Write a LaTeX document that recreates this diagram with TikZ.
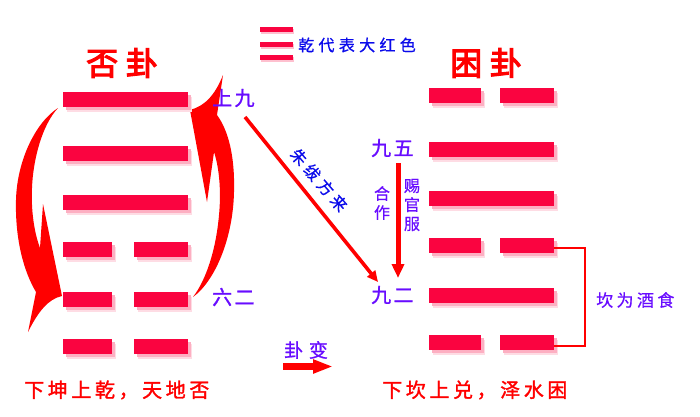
\documentclass[tikz,border=0pt]{standalone}
\usepackage{fontspec}
\newfontfamily\cjk{Noto Sans CJK SC}
\usetikzlibrary{arrows.meta,shadows}
\definecolor{barred}{RGB}{250,4,64}
\definecolor{lblpurple}{RGB}{104,12,255}
\definecolor{lblblue}{RGB}{10,10,235}
\definecolor{arrred}{RGB}{255,0,0}
\tikzset{
  bar/.style={fill=barred, draw=none, inner sep=0pt, minimum height=15pt,
    general shadow={fill=barred!14, shadow xshift=4pt, shadow yshift=-5pt},
    general shadow={fill=barred!32, shadow xshift=2.5pt, shadow yshift=-3pt}},
  full/.style={bar, minimum width=125pt},
  legbar/.style={fill=barred, draw=none, inner sep=0pt, minimum width=33pt, minimum height=5pt,
    general shadow={fill=barred!25, shadow xshift=1pt, shadow yshift=-1.5pt}},
  title/.style={inner sep=0pt, anchor=west, text=arrred,
    font=\cjk\addfontfeatures{LetterSpace=24,FakeBold=3.5}\fontsize{32pt}{32pt}\selectfont},
  yao/.style={inner sep=0pt, anchor=west, text=lblpurple,
    font=\cjk\addfontfeatures{LetterSpace=12,FakeBold=1.2}\fontsize{20pt}{20pt}\selectfont},
  note/.style={inner sep=0pt, anchor=west, text=lblpurple,
    font=\cjk\addfontfeatures{LetterSpace=20,FakeBold=0.6}\fontsize{17pt}{17pt}\selectfont},
  vnote/.style={inner sep=0pt, text=lblpurple, align=center,
    font=\cjk\addfontfeatures{FakeBold=0.6}\fontsize{16pt}{19pt}\selectfont},
  bottom/.style={inner sep=0pt, anchor=west, text=arrred,
    font=\cjk\addfontfeatures{LetterSpace=18,FakeBold=1.5}\fontsize{20pt}{20pt}\selectfont},
  bluetxt/.style={inner sep=0pt, text=lblblue,
    font=\cjk\addfontfeatures{LetterSpace=27,FakeBold=0.8}\fontsize{16pt}{16pt}\selectfont},
}
\begin{document}
\begin{tikzpicture}[x=1pt,y=-1pt]
\useasboundingbox (0,0) rectangle (700,416);
\fill[white] (0,0) rectangle (700,416);

% titles
\node[title] (tL) at (86,63) {否卦};
\node[title] (tR) at (450,63) {困卦};

% legend
\node[legbar] (g1) at (276.5,29.5) {};
\node[legbar] (g2) at (276.5,44.5) {};
\node[legbar] (g3) at (276.5,57.5) {};
\node[bluetxt, anchor=west] (gt) at (298,45) {乾代表大红色};

% curved arrows (left, right)
\fill[arrred] (58,108) .. controls (36,122) and (17,160) .. (16,200)
  .. controls (15,240) and (24,272) .. (36,292)
  -- (28,332)
  .. controls (38,312) and (48,299) .. (62,296)
  -- (43,204) -- (40,248)
  .. controls (34,232) and (31,210) .. (32,188)
  .. controls (33,160) and (42,125) .. (58,108) -- cycle;
\fill[arrred] (193,297) .. controls (214,282) and (233,240) .. (234,192)
  .. controls (235,155) and (228,130) .. (217,115)
  -- (223,75)
  .. controls (215,95) and (205,106) .. (190,110)
  -- (207,202) -- (214,152)
  .. controls (220,170) and (221,195) .. (219,215)
  .. controls (216,250) and (206,280) .. (193,297) -- cycle;

% left hexagram
\node[full] (L1) at (125.5,99.5) {};
\node[full] (L2) at (125.5,153.5) {};
\node[full] (L3) at (125.5,202.5) {};
\node[bar, minimum width=49pt] (L4a) at (87.5,249.5) {};
\node[bar, minimum width=54pt] (L4b) at (161,249.5) {};
\node[bar, minimum width=49pt] (L5a) at (87.5,299.5) {};
\node[bar, minimum width=54pt] (L5b) at (161,299.5) {};
\node[bar, minimum width=49pt] (L6a) at (87.5,346.5) {};
\node[bar, minimum width=54pt] (L6b) at (161,346.5) {};

% right hexagram
\node[bar, minimum width=52pt] (R1a) at (455,95.5) {};
\node[bar, minimum width=54pt] (R1b) at (527,95.5) {};
\node[full] (R2) at (491.5,149.5) {};
\node[full] (R3) at (491.5,198.5) {};
\node[bar, minimum width=52pt] (R4a) at (455,245.5) {};
\node[bar, minimum width=54pt] (R4b) at (527,245.5) {};
\node[full] (R5) at (491.5,295.5) {};
\node[bar, minimum width=52pt] (R6a) at (455,342.5) {};
\node[bar, minimum width=54pt] (R6b) at (527,342.5) {};

% yao labels
\node[yao] (s9) at (212,98) {上九};
\node[yao] (l2) at (212,297) {六二};
\node[yao] (n5) at (371,148) {九五};
\node[yao] (n2) at (371,295) {九二};

% diagonal arrow
\coordinate (dS) at (245,117);
\coordinate (dE) at (378,282);
\draw[arrred, line width=3.6pt, -{Triangle[length=11pt,width=10pt]}] (dS) -- (dE);
\node[bluetxt, rotate=-49] (zf) at (319,180) {朱绂方来};

% vertical arrow
\coordinate (vS) at (398,163);
\coordinate (vE) at (398,278);
\draw[arrred, line width=5pt, -{Triangle[length=14pt,width=12pt]}] (vS) -- (vE);
\node[vnote] (hz) at (382,203) {合\\作};
\node[vnote] (cg) at (412,205) {赐\\官\\服};

% bracket
\draw[arrred, line width=2pt] ([yshift=-2.5pt]R4b.east) -- ++(31,0) |- ([yshift=-3.5pt]R6b.east);
\node[note] (kw) at (596,300) {坎为酒食};

% gua bian arrow
\node[note, font=\cjk\addfontfeatures{LetterSpace=30,FakeBold=1}\fontsize{19pt}{19pt}\selectfont] (gb) at (284,350) {卦变};
\coordinate (bS) at (283,366.5);
\coordinate (bE) at (333,366.5);
\draw[arrred, line width=7pt, -{Triangle[length=20pt,width=13pt]}] (bS) -- (bE);

% bottom texts
\node[bottom] (bl) at (24,390) {下坤上乾，天地否};
\node[bottom] (br) at (382,390) {下坎上兑，泽水困};
\end{tikzpicture}
\end{document}
